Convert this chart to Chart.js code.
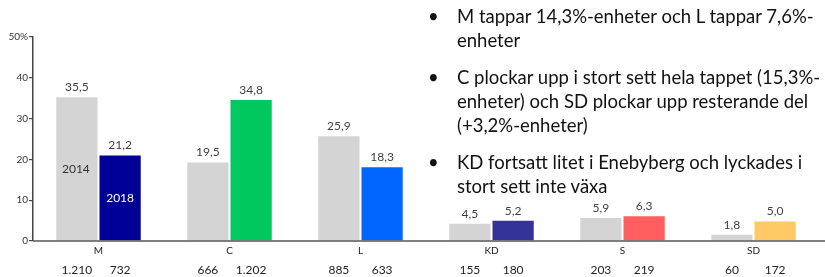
<!DOCTYPE html>
<html>
<head>
<meta charset="utf-8">
<script src="https://cdn.jsdelivr.net/npm/chart.js@4/dist/chart.umd.min.js"></script>
<style>
  html, body { margin: 0; padding: 0; background: #fff; }
  #wrap { position: relative; width: 825px; height: 277px; }
  #notes {
    position: absolute; left: 426px; top: 4px; width: 399px;
    font-family: Lato, "Open Sans", sans-serif; font-size: 18.5px; line-height: 24px; color: #111;
  }
  #notes p { margin: 0 0 13px 0; padding-left: 31px; position: relative; white-space: nowrap; }
  #notes p::before { content: "\2022"; position: absolute; left: 2px; }
</style>
</head>
<body>
<div id="wrap">
  <canvas id="chart" width="825" height="277"></canvas>
  <div id="notes">
    <p>M tappar 14,3%-enheter och L tappar 7,6%-<br>enheter</p>
    <p>C plockar upp i stort sett hela tappet (15,3%-<br>enheter) och SD plockar upp resterande del<br>(+3,2%-enheter)</p>
    <p>KD fortsatt litet i Enebyberg och lyckades i<br>stort sett inte växa</p>
  </div>
</div>
<script>
// Data
const parties = ['M', 'C', 'L', 'KD', 'S', 'SD'];
const share2014 = [35.5, 19.5, 25.9, 4.5, 5.9, 1.8];
const share2018 = [21.2, 34.8, 18.3, 5.2, 6.3, 5.0];
const votes2014 = [1210, 666, 885, 155, 203, 60];
const votes2018 = [732, 1202, 633, 180, 219, 172];
const colors2018 = ['#000096', '#00c85f', '#0066ff', '#333399', '#ff5f5f', '#ffc966'];
const yTicks = [0, 10, 20, 30, 40, 50];

const font = 'Lato, "Open Sans", sans-serif';

function fmtShare(v) {
    return v.toFixed(1).replace('.', ',');
}
function fmtVotes(v) {
    return String(v).replace(/\B(?=(\d{3})+(?!\d))/g, '.');
}

// draws values above bars, vote counts below axis and year tags in the M bars
const barLabels = {
    id: 'barLabels',
    afterDatasetsDraw(chart) {
        const ctx = chart.ctx;
        const y = chart.scales.y;
        const area = chart.chartArea;
        ctx.save();
        // x axis line, runs to the edge
        ctx.strokeStyle = '#555';
        ctx.lineWidth = 1.5;
        ctx.beginPath();
        ctx.moveTo(area.left, area.bottom);
        ctx.lineTo(chart.width, area.bottom);
        ctx.stroke();

        ctx.textAlign = 'center';
        ctx.textBaseline = 'middle';
        chart.data.datasets.forEach((ds, i) => {
            const meta = chart.getDatasetMeta(i);
            const votes = i === 0 ? votes2014 : votes2018;
            meta.data.forEach((bar, j) => {
                ctx.font = '12px ' + font;
                ctx.fillStyle = '#404040';
                ctx.fillText(fmtShare(ds.data[j]), bar.x, bar.y - 9);
                ctx.fillStyle = '#222';
                ctx.fillText(fmtVotes(votes[j]), bar.x, 270);
            });
        });
        const m0 = chart.getDatasetMeta(0).data[0];
        const m1 = chart.getDatasetMeta(1).data[0];
        ctx.font = '12px ' + font;
        ctx.fillStyle = '#333';
        ctx.fillText(chart.data.datasets[0].label, m0.x - 1, y.getPixelForValue(17.5));
        ctx.fillStyle = '#fff';
        ctx.fillText(chart.data.datasets[1].label, m1.x, y.getPixelForValue(10.5));
        ctx.restore();
    }
};

const ctx = document.getElementById('chart').getContext('2d');
const chart = new Chart(ctx, {
    type: 'bar',
    data: {
        labels: parties,
        datasets: [
            {
                label: '2014',
                data: share2014,
                backgroundColor: '#d4d4d4',
                borderColor: 'rgba(255,255,255,0.7)',
                borderWidth: 1,
                borderSkipped: 'bottom',
                categoryPercentage: 0.66,
                barPercentage: 1,
            },
            {
                label: '2018',
                data: share2018,
                backgroundColor: colors2018,
                borderColor: 'rgba(255,255,255,0.5)',
                borderWidth: 1,
                borderSkipped: 'bottom',
                categoryPercentage: 0.66,
                barPercentage: 1,
            },
        ],
    },
    options: {
        responsive: false,
        animation: false,
        layout: { padding: { top: 37, right: 6, left: 0, bottom: 0 } },
        plugins: {
            legend: { display: false },
            tooltip: { enabled: false },
        },
        scales: {
            x: {
                border: { display: false },
                grid: { display: false, drawTicks: false },
                ticks: { padding: 4, color: '#222', font: { family: font, size: 10 } },
                afterFit(scale) { scale.height = 36; },
            },
            y: {
                min: 0,
                max: 50,
                afterBuildTicks(scale) { scale.ticks = yTicks.map(v => ({ value: v })); },
                border: { color: '#444', width: 1.5 },
                grid: { drawOnChartArea: false, tickLength: 4, color: '#444', lineWidth: 1.2 },
                ticks: {
                    padding: 1,
                    color: '#333',
                    font: { family: font, size: 10 },
                    callback: v => (v === 50 ? '50%' : v),
                },
                afterFit(scale) { scale.width = 33; },
            },
        },
    },
    plugins: [barLabels],
});
</script>
</body>
</html>
